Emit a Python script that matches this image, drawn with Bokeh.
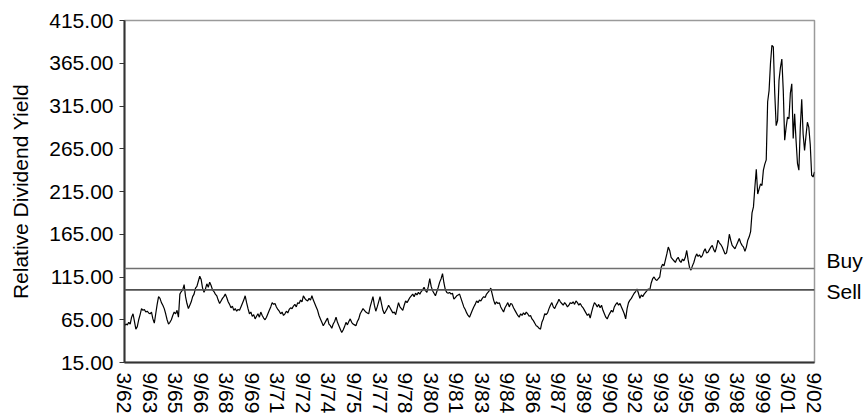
from bokeh.plotting import figure
from bokeh.models import Range1d, FixedTicker, NumeralTickFormatter, Span, LinearAxis
from bokeh.embed import file_html
from bokeh.resources import INLINE

# Monthly relative dividend yield, 3/62 .. 9/02 (one row per calendar year)
y1962 = [58, 60, 59, 62, 60, 68, 72, 63, 54, 57]
y1963 = [65, 71, 78, 76, 77, 74, 75, 73, 72, 74, 66, 61]
y1964 = [72, 83, 92, 90, 85, 82, 78, 72, 65, 60, 62, 65]
y1965 = [70, 74, 72, 76, 68, 95, 98, 100, 106, 92, 84, 78]
y1966 = [82, 86, 92, 95, 102, 104, 110, 116, 112, 102, 97, 101]
y1967 = [107, 103, 109, 105, 100, 98, 95, 93, 88, 84, 87, 90]
y1968 = [92, 95, 91, 86, 83, 79, 81, 76, 78, 75, 77, 76]
y1969 = [80, 84, 88, 93, 85, 78, 72, 74, 69, 71, 66, 69]
y1970 = [72, 68, 74, 70, 67, 65, 68, 72, 76, 80, 85, 83]
y1971 = [84, 80, 77, 75, 72, 74, 70, 72, 75, 73, 77, 79]
y1972 = [78, 81, 83, 80, 85, 84, 88, 86, 93, 90, 88, 87]
y1973 = [90, 88, 93, 88, 84, 80, 76, 70, 66, 62, 58, 61]
y1974 = [64, 67, 60, 58, 55, 60, 63, 68, 62, 58, 54, 50]
y1975 = [53, 57, 62, 59, 63, 66, 62, 60, 59, 58, 63, 66]
y1976 = [72, 75, 78, 76, 74, 73, 72, 80, 86, 92, 82, 75]
y1977 = [80, 86, 92, 84, 76, 72, 75, 78, 82, 79, 76, 73]
y1978 = [74, 71, 78, 85, 80, 78, 76, 82, 87, 85, 88, 91]
y1979 = [93, 95, 92, 96, 94, 97, 95, 98, 100, 103, 99, 97]
y1980 = [104, 113, 104, 99, 96, 93, 98, 103, 109, 113, 119, 108]
y1981 = [100, 97, 96, 97, 95, 96, 89, 91, 93, 94, 95, 90]
y1982 = [85, 80, 77, 73, 70, 68, 72, 76, 80, 83, 87, 85]
y1983 = [88, 87, 90, 92, 91, 95, 97, 99, 102, 95, 88, 83]
y1984 = [86, 84, 85, 80, 77, 74, 79, 82, 85, 80, 84, 83]
y1985 = [79, 76, 73, 70, 68, 72, 70, 73, 71, 74, 72, 69]
y1986 = [70, 66, 64, 61, 58, 57, 55, 54, 62, 66, 72, 71]
y1987 = [73, 78, 82, 85, 80, 78, 82, 85, 89, 86, 84, 82]
y1988 = [85, 83, 80, 82, 85, 84, 86, 83, 87, 85, 82, 84]
y1989 = [81, 79, 76, 73, 70, 72, 67, 74, 80, 85, 83, 80]
y1990 = [83, 79, 82, 76, 72, 68, 66, 70, 73, 76, 74, 80]
y1991 = [83, 85, 82, 84, 80, 76, 72, 66, 78, 85, 88, 90]
y1992 = [93, 96, 98, 101, 96, 90, 94, 92, 95, 97, 99, 101]
y1993 = [100, 108, 113, 115, 112, 111, 113, 115, 126, 130, 128, 135]
y1994 = [142, 150, 146, 138, 136, 134, 132, 136, 138, 134, 132, 136]
y1995 = [134, 138, 146, 135, 126, 123, 128, 132, 138, 142, 139, 141]
y1996 = [138, 140, 145, 148, 143, 144, 147, 150, 152, 147, 144, 150]
y1997 = [158, 155, 153, 150, 146, 142, 143, 152, 165, 158, 152, 150]
y1998 = [148, 152, 156, 160, 155, 152, 150, 145, 150, 158, 162, 168]
y1999 = [190, 197, 220, 241, 212, 218, 224, 222, 240, 247, 252, 320]
y2000 = [333, 365, 386, 384, 330, 292, 298, 345, 360, 370, 333, 275]
y2001 = [290, 302, 300, 330, 341, 277, 306, 275, 248, 240, 290, 323]
y2002 = [282, 263, 280, 296, 290, 270, 234, 232, 238]

tick_labels = ["3/62", "9/63", "3/65", "9/66", "3/68", "9/69", "3/71", "9/72",
               "3/74", "9/75", "3/77", "9/78", "3/80", "9/81", "3/83", "9/84",
               "3/86", "9/87", "3/89", "9/90", "3/92", "9/93", "3/95", "9/96",
               "3/98", "9/99", "3/01", "9/02"]
y_ticks = [15, 65, 115, 165, 215, 265, 315, 365, 415]
buy_level = 125
sell_level = 100
level_names = ["Buy", "Sell"]

values = (y1962 + y1963 + y1964 + y1965 + y1966 + y1967 + y1968 + y1969 + y1970
          + y1971 + y1972 + y1973 + y1974 + y1975 + y1976 + y1977 + y1978 + y1979
          + y1980 + y1981 + y1982 + y1983 + y1984 + y1985 + y1986 + y1987 + y1988
          + y1989 + y1990 + y1991 + y1992 + y1993 + y1994 + y1995 + y1996 + y1997
          + y1998 + y1999 + y2000 + y2001 + y2002)
months = list(range(len(values)))
step = 18
tick_pos = [i * step for i in range(len(tick_labels))]

FONT = "Liberation Sans"
FS = "21px"

p = figure(width=866, height=418, output_backend="svg", toolbar_location=None,
           x_range=Range1d(0, months[-1]), y_range=Range1d(y_ticks[0], y_ticks[-1]),
           min_border_left=124, min_border_right=52, min_border_top=20, min_border_bottom=56)
p.background_fill_color = "white"
p.border_fill_color = "white"
p.outline_line_color = "#9a9a9a"
p.outline_line_width = 1.5
p.grid.visible = False

p.line(months, values, line_color="black", line_width=1.2)

p.add_layout(Span(location=buy_level, dimension="width", line_color="#707070", line_width=1.6))
p.add_layout(Span(location=sell_level, dimension="width", line_color="#505050", line_width=1.6))

# Buy / Sell names shown at the right edge (label centres sit slightly off the lines, as in the source)
buy_label_pos = buy_level + 9
sell_label_pos = sell_level - 2
ra = LinearAxis(ticker=FixedTicker(ticks=[buy_label_pos, sell_label_pos]),
                major_label_overrides={buy_label_pos: level_names[0], sell_label_pos: level_names[1]})
ra.axis_line_color = None
ra.major_tick_line_color = None
ra.minor_tick_line_color = None
ra.major_tick_out = 0
ra.major_tick_in = 0
ra.major_label_standoff = 12
ra.major_label_text_font = FONT
ra.major_label_text_font_size = FS
ra.major_label_text_color = "black"
p.add_layout(ra, "right")

xa = p.xaxis[0]
xa.ticker = FixedTicker(ticks=tick_pos)
xa.major_label_overrides = {t: l for t, l in zip(tick_pos, tick_labels)}
xa.major_label_orientation = "vertical"
xa.major_tick_line_color = None
xa.minor_tick_line_color = None
xa.major_tick_out = 0
xa.major_tick_in = 0
xa.axis_line_color = "#333333"
xa.axis_line_width = 2
xa.major_label_text_font = FONT
xa.major_label_text_font_size = FS
xa.major_label_text_color = "black"
xa.major_label_standoff = 10

ya = p.yaxis[0]
ya.ticker = FixedTicker(ticks=y_ticks)
ya.formatter = NumeralTickFormatter(format="0.00")
ya.minor_tick_line_color = None
ya.major_tick_in = 0
ya.major_tick_out = 5
ya.major_tick_line_color = "#333333"
ya.axis_line_color = "#333333"
ya.axis_line_width = 2
ya.major_label_text_font = FONT
ya.major_label_text_font_size = FS
ya.major_label_text_color = "black"
ya.major_label_standoff = 6
ya.axis_label = "Relative Dividend Yield"
ya.axis_label_text_font = FONT
ya.axis_label_text_font_size = FS
ya.axis_label_text_font_style = "normal"
ya.axis_label_text_color = "black"
ya.axis_label_standoff = 14

open("out.html", "w").write(file_html(p, INLINE))
